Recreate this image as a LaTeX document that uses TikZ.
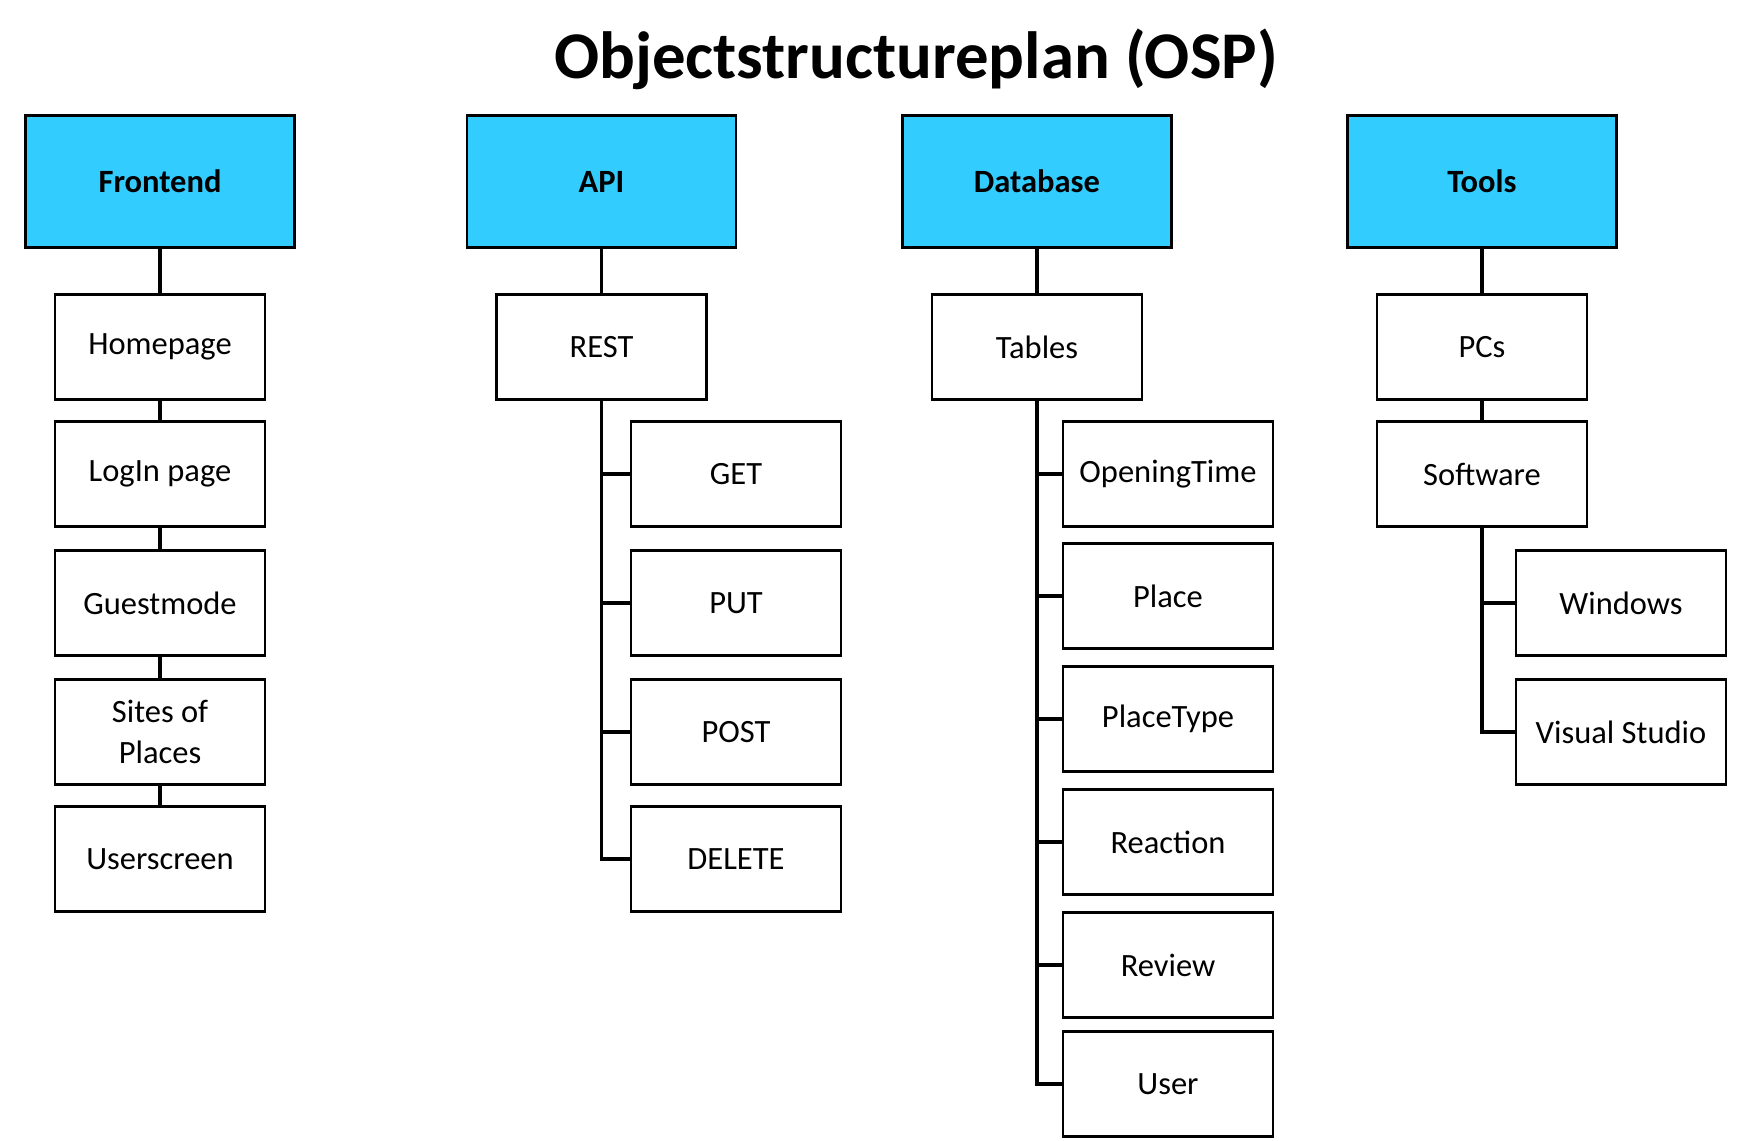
\documentclass[tikz,border=0pt]{standalone}
\usepackage{fontspec}
\setmainfont{Carlito}
\usetikzlibrary{positioning}
\definecolor{headblue}{HTML}{33CCFF}

\tikzset{
	head/.style={draw, line width=1.5pt, fill=headblue, minimum width=5.38cm, minimum height=2.64cm, font=\fontsize{18.5}{22}\selectfont\bfseries},
	item/.style={draw, line width=1.5pt, fill=white, minimum width=4.2cm, minimum height=2.1cm, align=center, font=\fontsize{18.5}{23}\selectfont},
	link/.style={line width=1.8pt}
}

\begin{document}
\begin{tikzpicture}[x=0.02cm, y=-0.02cm]
	\useasboundingbox (0,0) rectangle (1759,1140);
	% Title
	\node (title) at (916,59) {\fontsize{38}{44}\selectfont\bfseries Objectstructureplan (OSP)};
	
	% Main parts
	\node[head] (front) at (160,181.5) {Frontend};
	\node[head] (api) at (601.5,181.5) {API};
	\node[head] (db) at (1037,181.5) {Database};
	\node[head] (tools) at (1482,181.5) {Tools};
	
	% Frontend
	\node[item] (home) at (160,347) {Homepage};
	\node[item] (login) at (160,474) {LogIn page};
	\node[item] (guest) at (160,603) {Guestmode};
	\node[item] (sites) at (160,732) {Sites of\\Places};
	\node[item] (userscr) at (160,859) {Userscreen};
	\draw[link] (front) -- (home) -- (login) -- (guest) -- (sites) -- (userscr);
	
	% API
	\node[item] (rest) at (601.5,347) {REST};
	\node[item] (get) at (736,474) {GET};
	\node[item] (put) at (736,603) {PUT};
	\node[item] (post) at (736,732) {POST};
	\node[item] (delete) at (736,859) {DELETE};
	\draw[link] (api) -- (rest);
	\foreach \m in {get,put,post,delete}
		\draw[link] (rest.south) |- (\m);
	
	% Database
	\node[item] (tables) at (1037,347) {Tables};
	\node[item] (opening) at (1168,474) {OpeningTime};
	\node[item] (place) at (1168,596) {Place};
	\node[item] (ptype) at (1168,719) {PlaceType};
	\node[item] (reaction) at (1168,842) {Reaction};
	\node[item] (review) at (1168,965) {Review};
	\node[item] (user) at (1168,1084) {User};
	\draw[link] (db) -- (tables);
	\foreach \t in {opening,place,ptype,reaction,review,user}
		\draw[link] (tables.south) |- (\t);
	
	% Tools
	\node[item] (pcs) at (1482,347) {PCs};
	\node[item] (soft) at (1482,474) {Software};
	\node[item] (win) at (1621,603) {Windows};
	\node[item] (vs) at (1621,732) {Visual Studio};
	\draw[link] (tools) -- (pcs) -- (soft);
	\foreach \s in {win,vs}
		\draw[link] (soft.south) |- (\s);
\end{tikzpicture}
\end{document}
